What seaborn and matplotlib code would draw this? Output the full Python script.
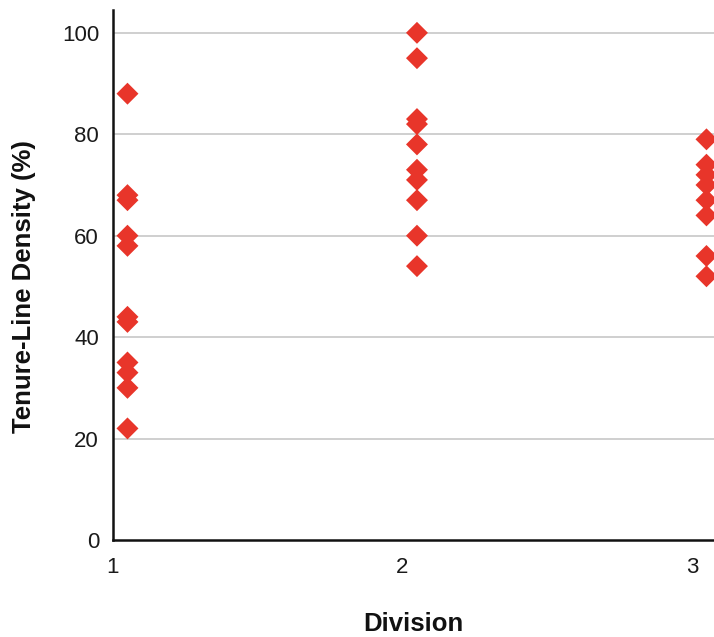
import matplotlib
matplotlib.use("Agg")
import matplotlib.pyplot as plt
import seaborn as sns
import pandas as pd

division_positions = [1.05, 2.05, 3.05]
div1_values = [88, 68, 67, 60, 58, 44, 43, 35, 33, 30, 22]
div2_values = [100, 95, 83, 82, 78, 73, 71, 67, 60, 54]
div3_values = [79, 74, 72, 70, 67, 64, 56, 52]
y_ticks = [0, 20, 40, 60, 80, 100]
x_ticks = [1, 2, 3]

rows = []
for pos, vals in zip(division_positions, [div1_values, div2_values, div3_values]):
    for v in vals:
        rows.append({"Division": pos, "Density": v})
df = pd.DataFrame(rows)

sns.set_theme(style="white")
plt.rcParams['font.family'] = ['Liberation Sans', 'DejaVu Sans']

fig = plt.figure(figsize=(7.14, 6.37), dpi=100)
ax = fig.add_axes([113/714, 97/637, 1 - 113/714, 530/637])

sns.scatterplot(data=df, x="Division", y="Density", marker="D", s=125,
                color="#E8352A", edgecolor="none", ax=ax, zorder=3, clip_on=True)

ax.set_xlim(1, 3.076)
ax.set_ylim(0, 104.5)
ax.set_yticks(y_ticks)
ax.set_xticks(x_ticks)
ax.set_xticklabels([str(t) for t in x_ticks])
ax.set_yticklabels([str(t) for t in y_ticks])
ax.tick_params(axis='both', length=0, labelsize=16, colors='#1a1a1a')
ax.tick_params(axis='y', pad=10)
ax.tick_params(axis='x', pad=12)

for t in y_ticks[1:]:
    ax.axhline(t, color='#CCCCCC', lw=1.3, zorder=1)

for side in ['top', 'right']:
    ax.spines[side].set_visible(False)
for side in ['left', 'bottom']:
    ax.spines[side].set_color('#111111')
    ax.spines[side].set_linewidth(1.8)

ax.set_xlabel("Division", fontsize=18.5, fontweight='bold', color='#111111')
ax.set_ylabel("Tenure-Line Density (%)", fontsize=18.5, fontweight='bold', color='#111111')
ax.xaxis.set_label_coords(0.5, (540 - 624) / 530)
ax.xaxis.label.set_va('center')
ax.yaxis.set_label_coords((24 - 113) / 601, (540 - 287) / 530)
ax.yaxis.label.set_va('center')
ax.yaxis.label.set_ha('center')

fig.savefig("out.png", dpi=100)
